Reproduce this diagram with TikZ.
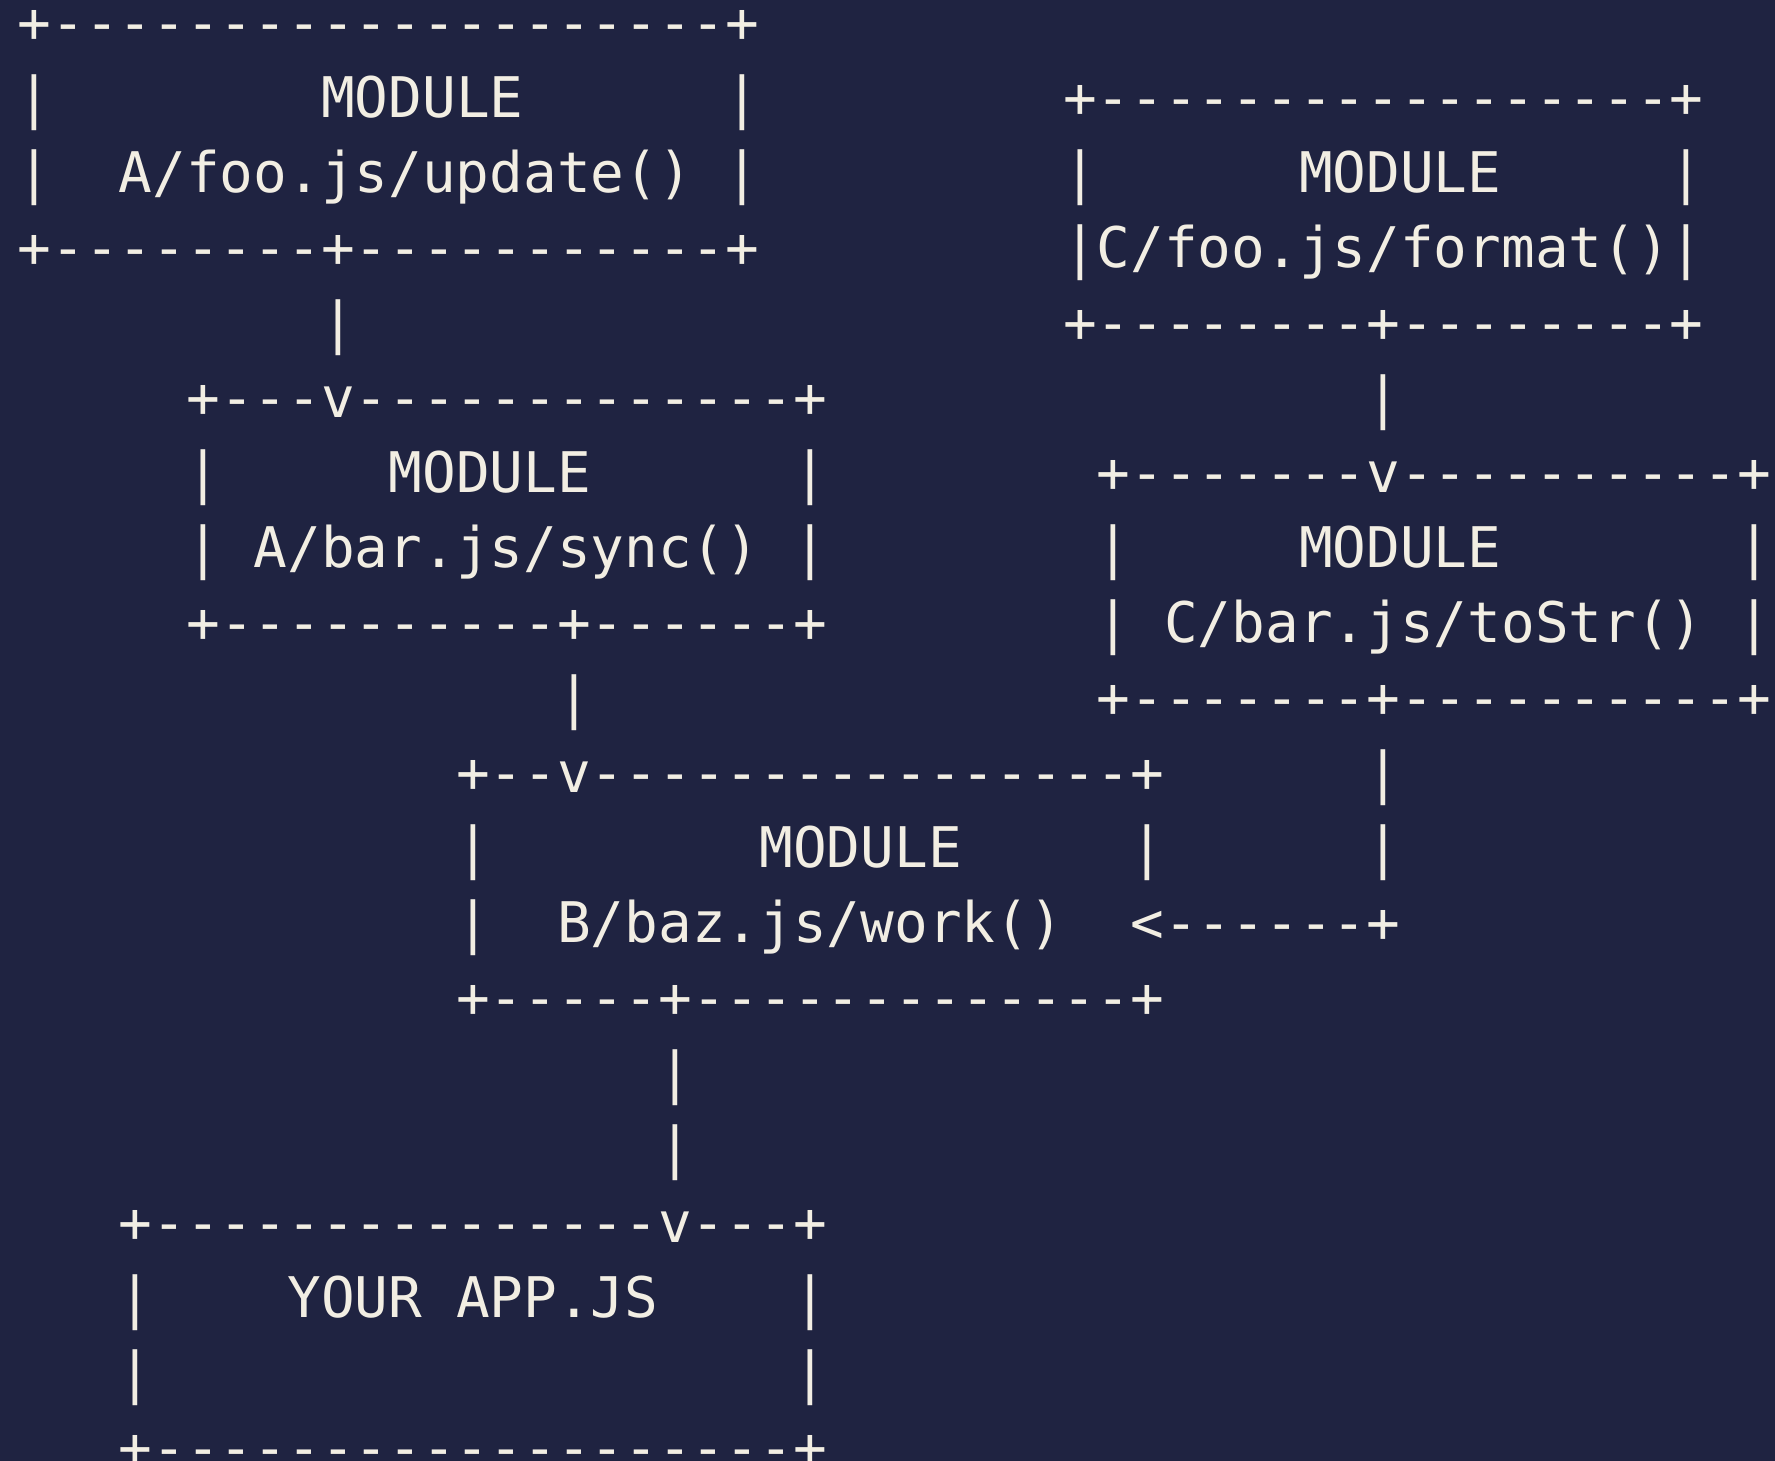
\documentclass[tikz,border=0pt]{standalone}
\usepackage{fontspec}
\setmonofont{DejaVu Sans Mono}
\definecolor{navybg}{HTML}{1F2341}
\definecolor{chalk}{HTML}{F2EEE3}

\begin{document}
\begin{tikzpicture}[x=33.72pt, y=-75pt, every node/.style={anchor=base west, inner sep=0pt, outer sep=0pt, text=chalk, font=\ttfamily\fontsize{56}{75}\selectfont}]
\useasboundingbox (-17.7pt,-32.5pt) rectangle (1757.3pt,-1493.5pt);
\fill[navybg] (-17.7pt,-32.5pt) rectangle (1757.3pt,-1493.5pt);

% module A/foo.js
\node (fooAtop) at (0,1) {+--------------------+};
\node (fooAl) at (0,2) {|};
\node (fooAhead) at (9,2) {MODULE};
\node (fooAr) at (21,2) {|};
\node (fooAll) at (0,3) {|};
\node (fooAname) at (3,3) {A/foo.js/update()};
\node (fooArr) at (21,3) {|};
\node (fooAbot) at (0,4) {+--------+-----------+};
\node (fooAout) at (9,5) {|};

% module C/foo.js
\node (fooCtop) at (31,2) {+-----------------+};
\node (fooCl) at (31,3) {|};
\node (fooChead) at (38,3) {MODULE};
\node (fooCr) at (49,3) {|};
\node (fooCname) at (31,4) {|C/foo.js/format()|};
\node (fooCbot) at (31,5) {+--------+--------+};
\node (fooCout) at (40,6) {|};

% module A/bar.js
\node (barAtop) at (5,6) {+---v-------------+};
\node (barAl) at (5,7) {|};
\node (barAhead) at (11,7) {MODULE};
\node (barAr) at (23,7) {|};
\node (barAll) at (5,8) {|};
\node (barAname) at (7,8) {A/bar.js/sync()};
\node (barArr) at (23,8) {|};
\node (barAbot) at (5,9) {+----------+------+};
\node (barAout) at (16,10) {|};

% module C/bar.js
\node (barCtop) at (32,7) {+-------v----------+};
\node (barCl) at (32,8) {|};
\node (barChead) at (38,8) {MODULE};
\node (barCr) at (51,8) {|};
\node (barCll) at (32,9) {|};
\node (barCname) at (34,9) {C/bar.js/toStr()};
\node (barCrr) at (51,9) {|};
\node (barCbot) at (32,10) {+-------+----------+};
\node (barCout) at (40,11) {|};
\node (barCoutt) at (40,12) {|};

% module B/baz.js
\node (bazBtop) at (13,11) {+--v----------------+};
\node (bazBl) at (13,12) {|};
\node (bazBhead) at (22,12) {MODULE};
\node (bazBr) at (33,12) {|};
\node (bazBll) at (13,13) {|};
\node (bazBname) at (16,13) {B/baz.js/work()};
\node (bazBin) at (33,13) {<------+};
\node (bazBbot) at (13,14) {+-----+-------------+};
\node (bazBout) at (19,15) {|};
\node (bazBoutt) at (19,16) {|};

% your app
\node (apptop) at (3,17) {+---------------v---+};
\node (appl) at (3,18) {|};
\node (appname) at (8,18) {YOUR APP.JS};
\node (appr) at (23,18) {|};
\node (appll) at (3,19) {|};
\node (apprr) at (23,19) {|};
\node (appbot) at (3,20) {+-------------------+};
\end{tikzpicture}
\end{document}
